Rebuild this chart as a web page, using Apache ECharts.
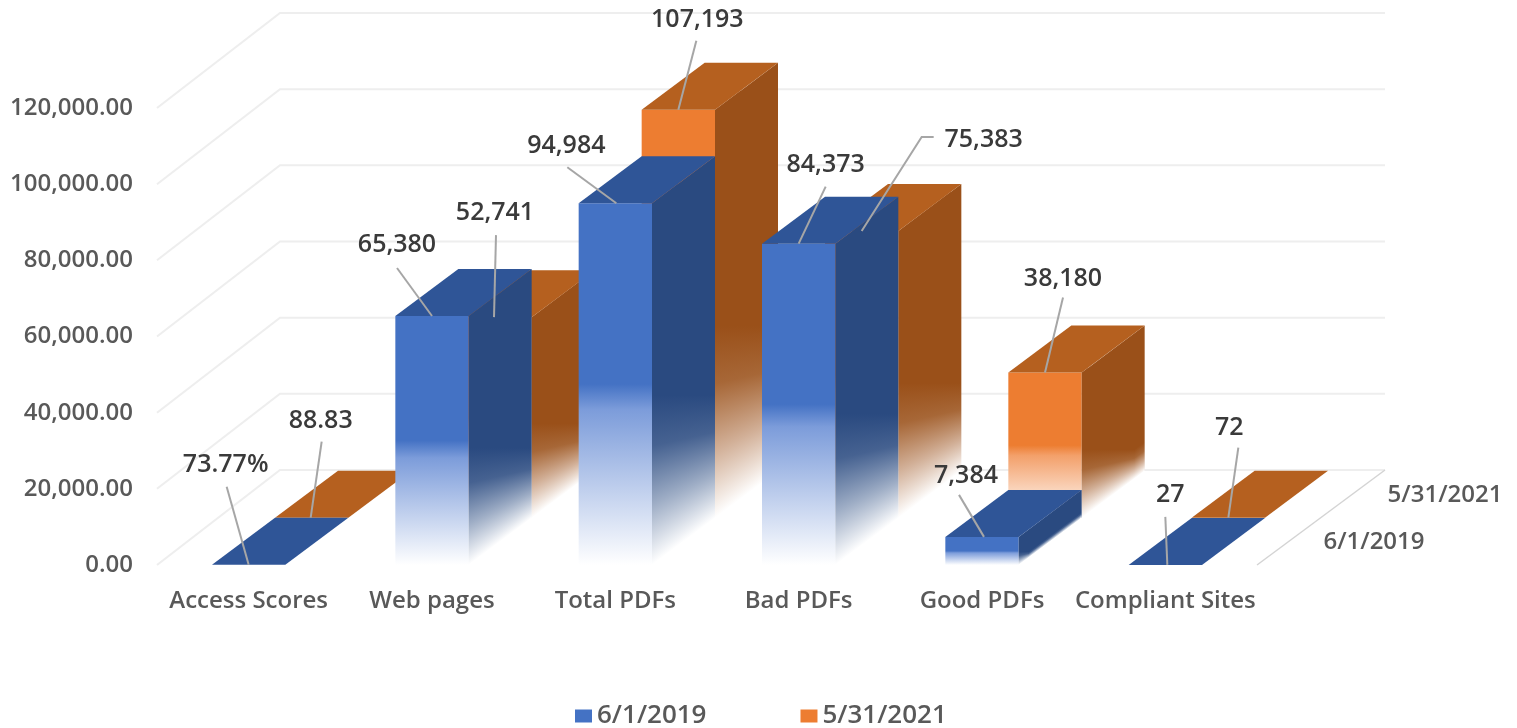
<!DOCTYPE html>
<html>
<head>
<meta charset="utf-8">
<title>Accessibility comparison</title>
<script src="https://cdn.jsdelivr.net/npm/echarts@6/dist/echarts.min.js"></script>
<style>
  html, body { margin: 0; padding: 0; background: #fff; }
  #chart { width: 1517px; height: 728px; }
</style>
</head>
<body>
<div id="chart"></div>
<script>
const categories = ['Access Scores', 'Web pages', 'Total PDFs', 'Bad PDFs', 'Good PDFs', 'Compliant Sites'];
const values2019 = [73.77, 65380, 94984, 84373, 7384, 27];
const values2021 = [88.83, 52741, 107193, 75383, 38180, 72];
const labels2019 = ['73.77%', '65,380', '94,984', '84,373', '7,384', '27'];
const labels2021 = ['88.83', '52,741', '107,193', '75,383', '38,180', '72'];
const yTicks = [0, 20000, 40000, 60000, 80000, 100000, 120000];
const seriesNames = ['6/1/2019', '5/31/2021'];

// label placement, relative to the middle of the bar's front top edge
// [text dx, text dy, leader points...]
const labelPos2019 = [
  [-23, -100, [[-22, -78], [0, 0]]],
  [-35, -71, [[-35, -48], [0, 0]]],
  [-49, -57, [[-48, -36], [1, 0]]],
  [27, -79, [[27, -57], [0, 0]]],
  [-16, -61, [[-23, -42], [2, 0]]],
  [5, -70, [[0, -48], [2, 0]]]
];
const labelPos2021 = [
  [9, -97, [[10, -76], [-1, 0]]],
  [0, -104, [[1, -82], [-1, 0]]],
  [19, -90, [[18, -69], [0, 0]]],
  [122, -91, [[72, -94], [60, -94], [0, 0]]],
  [18, -94, [[18, -75], [0, 0]]],
  [1, -90, [[10, -70], [0, 0]]]
];

const DEPTH_X = 63;
const DEPTH_Y = -47;
const WALL_X = 123;
const WALL_Y = -95;
const BAR_RATIO = 0.4;
const STRIP_WIDTH = 1;
const FONT = '"Open Sans", "Noto Sans", sans-serif';

const blue = { front: '#4472c4', fade: '#7c9cda', top: '#2f5597', side: '#2a4a80' };
const orange = { front: '#ed7d31', fade: '#f3a06a', top: '#b5601f', side: '#9a5019' };

function gradient(x, y, x2, y2, stops) {
  return new echarts.graphic.LinearGradient(x, y, x2, y2, stops, true);
}

function sideStops(color) {
  const mix = t => echarts.color.lerp(t, [color, '#ffffff']);
  return [
    { offset: 0, color: color },
    { offset: 0.3, color: mix(0.13) },
    { offset: 0.65, color: mix(0.55) },
    { offset: 1, color: '#ffffff' }
  ];
}

function barRenderer(colors, plane) {
  return function (params, api) {
    const base = api.coord([api.value(0), 0]);
    const head = api.coord([api.value(0), api.value(1)]);
    const w = api.size([1, 0])[0] * BAR_RATIO;
    const x0 = base[0] - w / 2 + DEPTH_X * plane;
    const x1 = x0 + w;
    const yb = base[1] + DEPTH_Y * plane;
    const yt = head[1] + DEPTH_Y * plane;
    const h = yb - yt;
    const children = [];

    if (h >= 1) {
      children.push({
        type: 'polygon',
        shape: { points: [[x0, yt], [x1, yt], [x1, yb], [x0, yb]] },
        style: {
          fill: gradient(0, yt, 0, yb, [
            { offset: 0, color: colors.front },
            { offset: 0.5, color: colors.front },
            { offset: 0.57, color: colors.fade },
            { offset: 1, color: '#ffffff' }
          ])
        }
      });
      // side face goes in thin strips: the fade starts on a level line
      // but ends on the slanted bottom edge, one linear gradient can't do that.
      // strip edges sit on whole pixels so no seams show
      const flatStart = yb - h * 0.47;
      const stops = sideStops(colors.side);
      const xEnd = x1 + DEPTH_X;
      let xa = x1;
      while (xa < xEnd - 0.01) {
        let xb = Math.floor(xa) + STRIP_WIDTH;
        if (xb > xEnd - 1) xb = xEnd;
        const ta = (xa - x1) / DEPTH_X;
        const tb = (xb - x1) / DEPTH_X;
        const bottom = yb + DEPTH_Y * (ta + tb) / 2;
        const start = Math.min(flatStart, bottom - h * 0.2);
        children.push({
          type: 'polygon',
          shape: {
            points: [
              [xa, yt + DEPTH_Y * ta],
              [xb, yt + DEPTH_Y * tb],
              [xb, yb + DEPTH_Y * tb],
              [xa, yb + DEPTH_Y * ta]
            ]
          },
          style: { fill: gradient(0, start, 0, bottom, stops) }
        });
        xa = xb;
      }
    }
    children.push({
      type: 'polygon',
      shape: { points: [[x0, yt], [x1, yt], [x1 + DEPTH_X, yt + DEPTH_Y], [x0 + DEPTH_X, yt + DEPTH_Y]] },
      style: { fill: colors.top }
    });
    return { type: 'group', children: children };
  };
}

function labelRenderer(texts, positions, plane) {
  return function (params, api) {
    const i = params.dataIndex;
    const p = api.coord([api.value(0), api.value(1)]);
    const ax = p[0] + DEPTH_X * plane;
    const ay = p[1] + DEPTH_Y * plane;
    const pos = positions[i];
    return {
      type: 'group',
      children: [
        {
          type: 'polyline',
          shape: { points: pos[2].map(q => [ax + q[0], ay + q[1]]) },
          style: { stroke: '#a6a6a6', lineWidth: 2, fill: null }
        },
        {
          type: 'text',
          style: {
            x: ax + pos[0],
            y: ay + pos[1],
            text: texts[i],
            fill: '#3a3a3a',
            font: '600 25px ' + FONT,
            align: 'center',
            verticalAlign: 'middle'
          }
        }
      ]
    };
  };
}

function wallRenderer(params, api) {
  const rect = params.coordSys;
  const y = api.coord([0, api.value(0)])[1];
  const right = rect.x + rect.width;
  return {
    type: 'polyline',
    shape: {
      points: [[rect.x, y], [rect.x + WALL_X, y + WALL_Y], [right + WALL_X + 5, y + WALL_Y]]
    },
    style: { stroke: '#eeeeee', lineWidth: 2, fill: null }
  };
}

function depthAxisRenderer(params, api) {
  const rect = params.coordSys;
  const x = rect.x + rect.width;
  const y = rect.y + rect.height;
  const textStyle = {
    fill: '#595959',
    font: '600 24px ' + FONT,
    align: 'center',
    verticalAlign: 'middle'
  };
  return {
    type: 'group',
    children: [
      {
        type: 'line',
        shape: { x1: x, y1: y, x2: x + WALL_X + 5, y2: y + WALL_Y },
        style: { stroke: '#d4d4d4', lineWidth: 1.5 }
      },
      { type: 'text', style: Object.assign({ x: x + 117, y: y - 23, text: seriesNames[0] }, textStyle) },
      { type: 'text', style: Object.assign({ x: x + 188, y: y - 70, text: seriesNames[1] }, textStyle) }
    ]
  };
}

const pairs = vals => vals.map((v, i) => [i, v]);

const option = {
  animation: false,
  backgroundColor: '#ffffff',
  grid: { left: 157, right: 260, top: 108, bottom: 163 },
  legend: {
    data: seriesNames,
    left: 575,
    top: 703,
    padding: 0,
    icon: 'rect',
    itemWidth: 17,
    itemHeight: 13,
    itemGap: 94,
    textStyle: { fontFamily: FONT, fontSize: 26, fontWeight: 600, color: '#595959' }
  },
  xAxis: {
    type: 'category',
    data: categories,
    axisLine: { show: false },
    axisTick: { show: false },
    axisLabel: {
      interval: 0,
      margin: 24,
      fontFamily: FONT,
      fontSize: 24,
      fontWeight: 600,
      color: '#595959'
    }
  },
  yAxis: {
    type: 'value',
    min: 0,
    max: 120000,
    interval: 20000,
    splitLine: { show: false },
    axisLine: { show: false },
    axisTick: { show: false },
    axisLabel: {
      margin: 24,
      padding: [4, 0, 0, 0],
      fontFamily: FONT,
      fontSize: 24,
      fontWeight: 600,
      color: '#595959',
      formatter: v => v.toLocaleString('en-US', { minimumFractionDigits: 2, maximumFractionDigits: 2 })
    }
  },
  series: [
    {
      name: 'walls',
      type: 'custom',
      renderItem: wallRenderer,
      data: yTicks.map(v => [v]),
      encode: { y: 0 },
      silent: true,
      z: 1
    },
    {
      name: 'depth axis',
      type: 'custom',
      renderItem: depthAxisRenderer,
      data: [[0, 0]],
      encode: { x: 0, y: 1 },
      silent: true,
      z: 1
    },
    {
      name: seriesNames[1],
      type: 'custom',
      renderItem: barRenderer(orange, 1),
      data: pairs(values2021),
      encode: { x: 0, y: 1 },
      itemStyle: { color: orange.front },
      z: 2
    },
    {
      name: seriesNames[0],
      type: 'custom',
      renderItem: barRenderer(blue, 0),
      data: pairs(values2019),
      encode: { x: 0, y: 1 },
      itemStyle: { color: blue.front },
      z: 3
    },
    {
      name: 'labels 2021',
      type: 'custom',
      renderItem: labelRenderer(labels2021, labelPos2021, 1),
      data: pairs(values2021),
      encode: { x: 0, y: 1 },
      silent: true,
      z: 4
    },
    {
      name: 'labels 2019',
      type: 'custom',
      renderItem: labelRenderer(labels2019, labelPos2019, 0),
      data: pairs(values2019),
      encode: { x: 0, y: 1 },
      silent: true,
      z: 4
    }
  ]
};

const chart = echarts.init(document.getElementById('chart'));
chart.setOption(option);
</script>
</body>
</html>
